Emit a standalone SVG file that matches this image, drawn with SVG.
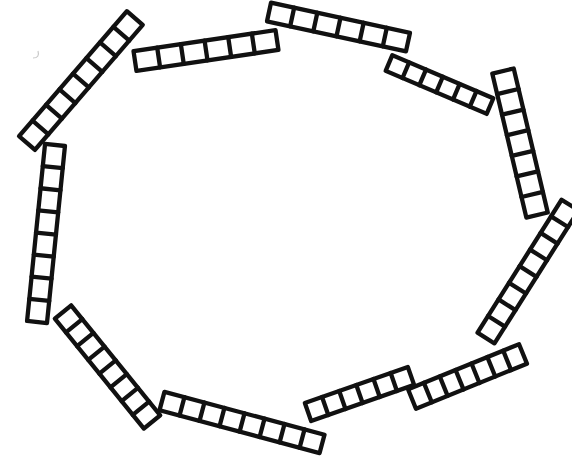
<svg xmlns="http://www.w3.org/2000/svg" width="572" height="459" viewBox="0 0 572 459">
<style>
.rod rect,.rod path{fill:none;stroke:#111;stroke-width:4.3;stroke-linejoin:round;stroke-linecap:round}
</style>
<rect width="572" height="459" fill="#fff"/>
<path d="M38,51 Q40,58 33,58" fill="none" stroke="#c8c8c8" stroke-width="1.2"/>
<g id="rod1" class="rod" transform="translate(27,143) rotate(-49.2)">
<rect x="0" y="-10.5" width="165" height="21"/>
<path d="M20.6,-10.5v21M41.3,-10.5v21M61.9,-10.5v21M82.5,-10.5v21M103.1,-10.5v21M123.8,-10.5v21M144.4,-10.5v21"/>
</g>
<g id="rod2" class="rod" transform="translate(135,61) rotate(-8.4)">
<rect x="0" y="-10" width="143.5" height="20"/>
<path d="M23.9,-10v20M47.8,-10v20M71.8,-10v20M95.7,-10v20M119.6,-10v20"/>
</g>
<g id="rod3" class="rod" transform="translate(269,12) rotate(12.2)">
<rect x="0" y="-9.5" width="142.2" height="19"/>
<path d="M23.7,-9.5v19M47.4,-9.5v19M71.1,-9.5v19M94.8,-9.5v19M118.5,-9.5v19"/>
</g>
<g id="rod4" class="rod" transform="translate(389,63) rotate(23.1)">
<rect x="0" y="-8.5" width="109.8" height="17"/>
<path d="M18.3,-8.5v17M36.6,-8.5v17M54.9,-8.5v17M73.2,-8.5v17M91.5,-8.5v17"/>
</g>
<g id="rod5" class="rod" transform="translate(503,71) rotate(76.7)">
<rect x="0" y="-11" width="148" height="22"/>
<path d="M21.1,-11v22M42.3,-11v22M63.4,-11v22M84.6,-11v22M105.7,-11v22M126.9,-11v22"/>
</g>
<g id="rod6" class="rod" transform="translate(486,338) rotate(-57.7)">
<rect x="0" y="-10" width="157.3" height="20"/>
<path d="M19.7,-10v20M39.3,-10v20M59,-10v20M78.7,-10v20M98.3,-10v20M118,-10v20M137.6,-10v20"/>
</g>
<g id="rod7" class="rod" transform="translate(412,399) rotate(-22.1)">
<rect x="0" y="-10.5" width="119.8" height="21"/>
<path d="M17.1,-10.5v21M34.2,-10.5v21M51.3,-10.5v21M68.5,-10.5v21M85.6,-10.5v21M102.7,-10.5v21"/>
</g>
<g id="rod8" class="rod" transform="translate(308,412) rotate(-19.3)">
<rect x="0" y="-9.5" width="109.1" height="19"/>
<path d="M18.2,-9.5v19M36.4,-9.5v19M54.5,-9.5v19M72.7,-9.5v19M90.9,-9.5v19"/>
</g>
<g id="rod9" class="rod" transform="translate(162,401) rotate(15)">
<rect x="0" y="-9.5" width="165.7" height="19"/>
<path d="M20.7,-9.5v19M41.4,-9.5v19M62.1,-9.5v19M82.9,-9.5v19M103.6,-9.5v19M124.3,-9.5v19M145,-9.5v19"/>
</g>
<g id="rod10" class="rod" transform="translate(63,312) rotate(51)">
<rect x="0" y="-10.5" width="141.5" height="21"/>
<path d="M17.7,-10.5v21M35.4,-10.5v21M53.1,-10.5v21M70.8,-10.5v21M88.4,-10.5v21M106.1,-10.5v21M123.8,-10.5v21"/>
</g>
<g id="rod11" class="rod" transform="translate(55,145) rotate(95.8)">
<rect x="0" y="-10" width="177.9" height="20"/>
<path d="M22.2,-10v20M44.5,-10v20M66.7,-10v20M89,-10v20M111.2,-10v20M133.4,-10v20M155.7,-10v20"/>
</g>
</svg>
